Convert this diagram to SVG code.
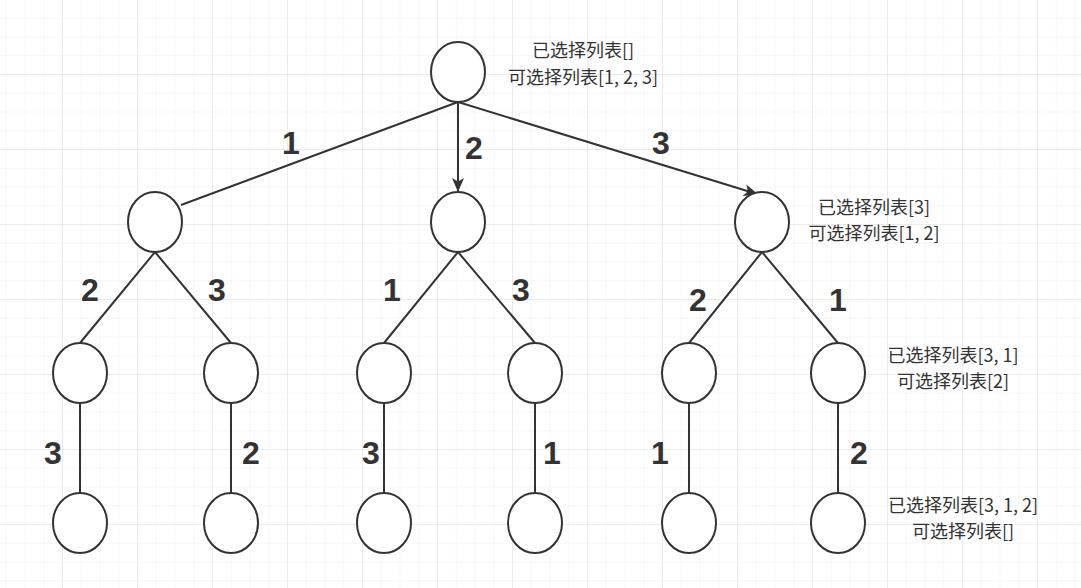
<svg xmlns="http://www.w3.org/2000/svg" width="1081" height="588" viewBox="0 0 1081 588">
<style>
.n{fill:#fff;stroke:#333;stroke-width:2}
.e{stroke:#333;stroke-width:2;fill:none}
.l{font-family:"Liberation Sans",Arial,sans-serif;font-weight:bold;font-size:32px;fill:#333;text-anchor:middle}
.t{font-family:"Noto Sans CJK SC","Liberation Sans",sans-serif;font-size:18px;fill:#333;text-anchor:middle}
</style>
<defs>
<pattern id="g" width="18.75" height="18.75" patternUnits="userSpaceOnUse" x="-13" y="-1">
<path d="M0 0H18.75M0 0V18.75" stroke="#f0f0f0" stroke-width="1" fill="none"/>
</pattern>
<pattern id="G" width="75" height="75" patternUnits="userSpaceOnUse" x="-13" y="-1">
<path d="M0 0H75M0 0V75" stroke="#e0e0e0" stroke-width="1" fill="none"/>
</pattern>
<marker id="a" markerWidth="14" markerHeight="14" refX="13" refY="7" orient="auto" markerUnits="userSpaceOnUse" viewBox="0 0 14 14">
<path d="M0 1L14 7L0 13L3.5 7Z" fill="#333"/>
</marker>
</defs>
<rect width="1081" height="588" fill="#fff"/>
<rect width="1081" height="588" fill="url(#g)"/>
<rect width="1081" height="588" fill="url(#G)"/>
<g id="edges">
<path class="e" d="M458 102L181 205"/>
<path class="e" d="M458 102L458 191" marker-end="url(#a)"/>
<path class="e" d="M458 102L757 194" marker-end="url(#a)"/>
<path class="e" d="M155 252L80 343M155 252L231 343"/>
<path class="e" d="M458 252L384 343M458 252L535 343"/>
<path class="e" d="M762 252L689 343M762 252L838 343"/>
<path class="e" d="M80 403V493M231 403V493M384 403V493M535 403V493M689 403V493M838 403V493"/>
</g>
<g id="root"><ellipse class="n" cx="458" cy="72" rx="27" ry="30"/></g>
<g id="n1"><ellipse class="n" cx="155" cy="222" rx="27" ry="30"/></g>
<g id="n2"><ellipse class="n" cx="458" cy="222" rx="27" ry="30"/></g>
<g id="n3"><ellipse class="n" cx="762" cy="222" rx="27" ry="30"/></g>
<g id="n12"><ellipse class="n" cx="80" cy="373" rx="27" ry="30"/></g>
<g id="n13"><ellipse class="n" cx="231" cy="373" rx="27" ry="30"/></g>
<g id="n21"><ellipse class="n" cx="384" cy="373" rx="27" ry="30"/></g>
<g id="n23"><ellipse class="n" cx="535" cy="373" rx="27" ry="30"/></g>
<g id="n32"><ellipse class="n" cx="689" cy="373" rx="27" ry="30"/></g>
<g id="n31"><ellipse class="n" cx="838" cy="373" rx="27" ry="30"/></g>
<g id="n123"><ellipse class="n" cx="80" cy="523" rx="27" ry="30"/></g>
<g id="n132"><ellipse class="n" cx="231" cy="523" rx="27" ry="30"/></g>
<g id="n213"><ellipse class="n" cx="384" cy="523" rx="27" ry="30"/></g>
<g id="n231"><ellipse class="n" cx="535" cy="523" rx="27" ry="30"/></g>
<g id="n321"><ellipse class="n" cx="689" cy="523" rx="27" ry="30"/></g>
<g id="n312"><ellipse class="n" cx="838" cy="523" rx="27" ry="30"/></g>
<g id="labels">
<text class="l" x="291" y="154">1</text>
<text class="l" x="474" y="159">2</text>
<text class="l" x="661" y="154">3</text>
<text class="l" x="90" y="301">2</text>
<text class="l" x="217" y="301">3</text>
<text class="l" x="392" y="301">1</text>
<text class="l" x="521" y="301">3</text>
<text class="l" x="698" y="311">2</text>
<text class="l" x="838" y="311">1</text>
<text class="l" x="53" y="464">3</text>
<text class="l" x="251" y="464">2</text>
<text class="l" x="371" y="464">3</text>
<text class="l" x="552" y="464">1</text>
<text class="l" x="660" y="464">1</text>
<text class="l" x="859" y="464">2</text>
</g>
<g id="notes">
<text class="t" x="583" y="57">已选择列表[]</text>
<text class="t" x="583" y="84">可选择列表[1, 2, 3]</text>
<text class="t" x="874" y="214">已选择列表[3]</text>
<text class="t" x="874" y="240">可选择列表[1, 2]</text>
<text class="t" x="953" y="362">已选择列表[3, 1]</text>
<text class="t" x="953" y="388">可选择列表[2]</text>
<text class="t" x="963" y="512">已选择列表[3, 1, 2]</text>
<text class="t" x="963" y="538">可选择列表[]</text>
</g>
</svg>
